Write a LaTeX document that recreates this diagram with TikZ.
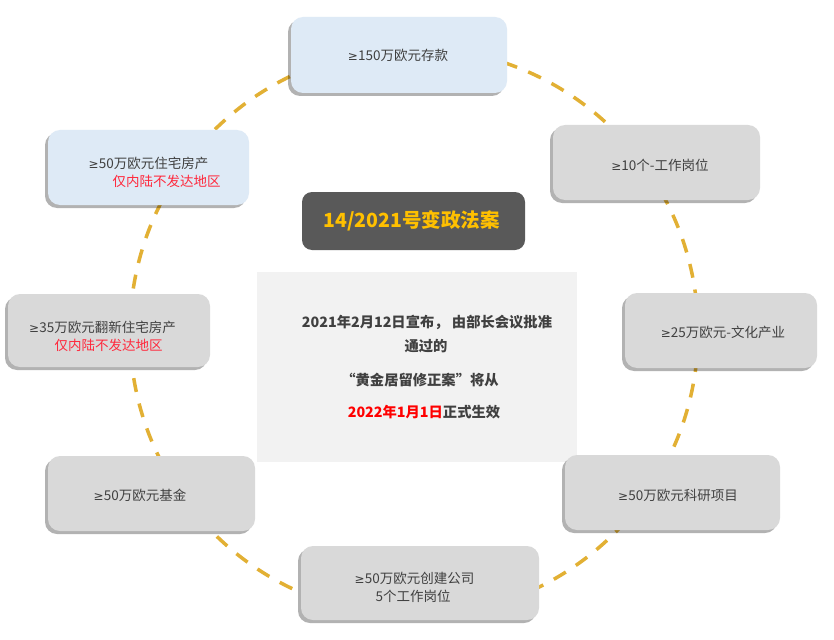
\documentclass[tikz,border=0pt]{standalone}
\usepackage{fontspec}
\setmainfont{Noto Sans CJK SC}
\newfontfamily\gefont{DejaVu Sans}
\newcommand{\myge}{{\gefont\fontsize{12}{14}\selectfont ≥}}
\usetikzlibrary{shadows}
\definecolor{gold}{RGB}{226,176,52}
\definecolor{lblue}{RGB}{222,234,246}
\definecolor{lgray}{RGB}{217,217,217}
\definecolor{dgray}{RGB}{89,89,89}
\definecolor{cbg}{RGB}{242,242,242}
\definecolor{txt}{RGB}{64,64,64}
\definecolor{titlegold}{RGB}{255,192,0}
\definecolor{pinkred}{RGB}{255,40,60}
\begin{document}
\begin{tikzpicture}[x=1pt,y=-1pt,
 card/.style={draw=none, rounded corners=12pt, inner sep=0pt,
   drop shadow={shadow xshift=-3pt,shadow yshift=-3pt,fill=black,opacity=0.3}},
 bluecard/.style={card, fill=lblue},
 graycard/.style={card, fill=lgray},
 lbl/.style={font=\fontsize{13.5}{16}\selectfont, text=txt, inner sep=0pt},
 redlbl/.style={lbl, text=pinkred},
 ctext/.style={font=\fontsize{14.3}{17}\selectfont\bfseries, text=txt, inner sep=0pt},
]
\useasboundingbox (0,0) rectangle (834,639);
\fill[white] (0,0) rectangle (834,639);
\coordinate (c) at (414,332);
\draw[gold, line width=3.5pt, dash pattern=on 14pt off 12pt] (c) circle[radius=284];

% center box and title
\node[fill=cbg, minimum width=320pt, minimum height=190pt, inner sep=0pt] (center) at (417,367) {};
\node[fill=dgray, rounded corners=10pt, minimum width=223pt, minimum height=58pt, inner sep=0pt] (title) at (413.5,221) {};
\node[font=\fontsize{19.5}{22}\selectfont\bfseries, text=titlegold, inner sep=0pt] (titletext) at (411.5,221) {14/2021号变政法案};

\node[ctext] (c1) at (427,322) {2021年2月12日宣布， 由部长会议批准};
\node[ctext] (c2) at (426,346) {通过的};
\node[ctext] (c3) at (420,380) {“黄金居留修正案”将从};
\node[ctext] (c4) at (424,412) {{\color{red}2022年1月1日}正式生效};

% cards
\node[bluecard, minimum width=216pt, minimum height=76pt] (b1) at (399,55) {};
\node[bluecard, minimum width=201pt, minimum height=75pt] (b2) at (148.5,167.5) {};
\node[graycard, minimum width=207pt, minimum height=75pt] (b3) at (656.5,162.5) {};
\node[graycard, minimum width=202pt, minimum height=73pt] (b4) at (109,330.5) {};
\node[graycard, minimum width=192pt, minimum height=75pt] (b5) at (721,330.5) {};
\node[graycard, minimum width=207pt, minimum height=75pt] (b6) at (151.5,493.5) {};
\node[graycard, minimum width=215pt, minimum height=75pt] (b7) at (672.5,492.5) {};
\node[graycard, minimum width=238pt, minimum height=74pt] (b8) at (420,583) {};

% labels
\node[lbl] (t1) at (398,55) {\myge 150万欧元存款};
\node[lbl] (t2a) at (148.5,163) {\myge 50万欧元住宅房产};
\node[redlbl] (t2b) at (166.5,181) {仅内陆不发达地区};
\node[lbl] (t3) at (660,165) {\myge 10个-工作岗位};
\node[lbl] (t4a) at (102.5,327) {\myge 35万欧元翻新住宅房产};
\node[redlbl] (t4b) at (108.5,345) {仅内陆不发达地区};
\node[lbl] (t5) at (723,332) {\myge 25万欧元-文化产业};
\node[lbl] (t6) at (140,495) {\myge 50万欧元基金};
\node[lbl] (t7) at (678,495) {\myge 50万欧元科研项目};
\node[lbl] (t8a) at (414.5,578) {\myge 50万欧元创建公司};
\node[lbl] (t8b) at (413,596) {5个工作岗位};
\end{tikzpicture}
\end{document}
